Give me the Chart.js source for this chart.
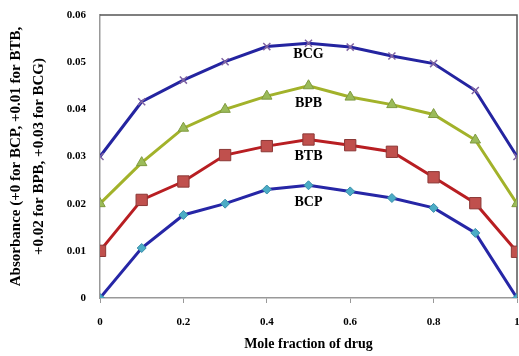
<!DOCTYPE html>
<html>
<head>
<meta charset="utf-8">
<script src="https://cdn.jsdelivr.net/npm/chart.js@4.4.0/dist/chart.umd.min.js"></script>
<style>
  html, body { margin: 0; padding: 0; background: #fff; }
  #wrap { width: 519px; height: 356px; }
</style>
</head>
<body>
<div id="wrap"><canvas id="chart"></canvas></div>
<script>
// mole fraction of drug
var moleFraction = [0, 0.1, 0.2, 0.3, 0.4, 0.5, 0.6, 0.7, 0.8, 0.9, 1];

// absorbance, already shifted (+0, +0.01, +0.02, +0.03)
var bcp = [0, 0.0106, 0.0176, 0.0200, 0.0230, 0.0239, 0.0226, 0.0212, 0.0191, 0.0138, 0];
var btb = [0.0100, 0.0208, 0.0247, 0.0303, 0.0322, 0.0336, 0.0324, 0.0310, 0.0256, 0.0201, 0.0098];
var bpb = [0.0200, 0.0287, 0.0360, 0.0400, 0.0428, 0.0450, 0.0426, 0.0410, 0.0389, 0.0335, 0.0200];
var bcg = [0.0300, 0.0416, 0.0462, 0.0501, 0.0533, 0.0540, 0.0532, 0.0513, 0.0497, 0.0440, 0.0300];

var seriesNames = ["BCP", "BTB", "BPB", "BCG"];
// where each curve's name sits (x, y in data units)
var nameAnchors = [[0.5, 0.0203], [0.5, 0.0301], [0.5, 0.0412], [0.5, 0.0516]];

var xTicks = [0, 0.2, 0.4, 0.6, 0.8, 1];
var yTicks = [0, 0.01, 0.02, 0.03, 0.04, 0.05, 0.06];

function pts(ys) {
  return moleFraction.map(function (x, i) { return { x: x, y: ys[i] }; });
}
function fmt(v) {
  return String(Math.round(v * 100) / 100);
}

var boldSerif = "'Liberation Serif', 'DejaVu Serif', serif";

// frame on top and right of the plot
var frame = {
  id: "frame",
  beforeDatasetsDraw: function (chart) {
    var a = chart.chartArea, ctx = chart.ctx;
    ctx.save();
    ctx.strokeStyle = "#555";
    ctx.lineWidth = 1.5;
    ctx.beginPath();
    ctx.moveTo(a.left, a.top);
    ctx.lineTo(a.right, a.top);
    ctx.lineTo(a.right, a.bottom);
    ctx.stroke();
    ctx.restore();
  }
};

// series names written under each curve
var curveNames = {
  id: "curveNames",
  afterDatasetsDraw: function (chart) {
    var ctx = chart.ctx, xs = chart.scales.x, ys = chart.scales.y;
    ctx.save();
    ctx.font = "bold 14px " + boldSerif;
    ctx.fillStyle = "#000";
    ctx.textAlign = "center";
    ctx.textBaseline = "middle";
    seriesNames.forEach(function (n, i) {
      ctx.fillText(n, xs.getPixelForValue(nameAnchors[i][0]), ys.getPixelForValue(nameAnchors[i][1]));
    });
    ctx.restore();
  }
};

var details = {
  type: "line",
  data: {
    datasets: [
      {
        label: "BCP",
        data: pts(bcp),
        borderColor: "#2626a6",
        borderWidth: 3,
        pointStyle: "rectRot",
        pointRadius: 4.5,
        pointBackgroundColor: "#4bacc6",
        pointBorderColor: "#3a8ea8",
        pointBorderWidth: 1
      },
      {
        label: "BTB",
        data: pts(btb),
        borderColor: "#b81e22",
        borderWidth: 3,
        pointStyle: "rect",
        pointRadius: 8,
        pointBackgroundColor: "#c0504d",
        pointBorderColor: "#8c3836",
        pointBorderWidth: 1
      },
      {
        label: "BPB",
        data: pts(bpb),
        borderColor: "#a2b22a",
        borderWidth: 3,
        pointStyle: "triangle",
        pointRadius: 6,
        pointBackgroundColor: "#9bbb59",
        pointBorderColor: "#7f9a3f",
        pointBorderWidth: 1
      },
      {
        label: "BCG",
        data: pts(bcg),
        borderColor: "#2424a0",
        borderWidth: 3,
        pointStyle: "crossRot",
        pointRadius: 5,
        pointBorderColor: "#8064a2",
        pointBorderWidth: 1.5
      }
    ]
  },
  options: {
    responsive: true,
    maintainAspectRatio: false,
    animation: false,
    layout: { autoPadding: false, padding: { top: 15, right: 2, left: 0, bottom: 0 } },
    plugins: {
      legend: { display: false },
      tooltip: { enabled: false }
    },
    scales: {
      x: {
        type: "linear",
        min: 0,
        max: 1,
        afterBuildTicks: function (s) {
          s.ticks = xTicks.map(function (v) { return { value: v }; });
        },
        afterFit: function (s) {
          s.height = 58;
          s.paddingLeft = 0;
          s.paddingRight = 0;
        },
        grid: { display: true, drawOnChartArea: false, drawTicks: true, tickLength: 5, color: "#999" },
        border: { color: "#999", width: 1.5 },
        ticks: {
          padding: 13,
          color: "#000",
          font: { family: boldSerif, size: 11, weight: "bold" },
          callback: function (v) { return fmt(v); }
        },
        title: {
          display: true,
          text: "Mole fraction of drug",
          color: "#000",
          font: { family: boldSerif, size: 14, weight: "bold", lineHeight: 1.2 },
          padding: { top: 0, bottom: 3 }
        }
      },
      y: {
        min: 0,
        max: 0.06,
        afterBuildTicks: function (s) {
          s.ticks = yTicks.map(function (v) { return { value: v }; });
        },
        afterFit: function (s) {
          s.width = 100;
          s.paddingTop = 0;
          s.paddingBottom = 0;
        },
        grid: { display: false, drawTicks: false },
        border: { color: "#999", width: 1.5 },
        ticks: {
          padding: 14,
          color: "#000",
          font: { family: boldSerif, size: 11, weight: "bold" },
          callback: function (v) { return fmt(v); }
        },
        title: {
          display: true,
          text: ["Absorbance (+0 for BCP, +0.01 for BTB,", "+0.02 for BPB, +0.03 for BCG)"],
          color: "#000",
          font: { family: boldSerif, size: 15, weight: "bold", lineHeight: 1.55 },
          padding: { top: 4, bottom: 0 }
        }
      }
    }
  },
  plugins: [frame, curveNames]
};

var view = new Chart(document.getElementById("chart"), details);
</script>
</body>
</html>
